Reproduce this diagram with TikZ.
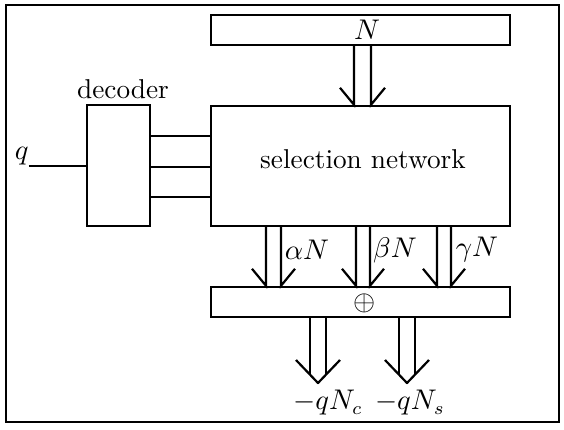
\documentclass[tikz,border=0pt]{standalone}
\usetikzlibrary{fit,calc}
\begin{document}
\begin{tikzpicture}[x=0.385pt,y=-0.385pt,
  box/.style={draw, line width=0.95pt, fill=white, inner sep=0pt},
  wire/.style={line width=0.85pt},
  thinwire/.style={line width=0.65pt},
  lbl/.style={inner sep=0pt, font=\fontsize{10.5}{12}\selectfont}]
\useasboundingbox (0,0) rectangle (564,429);
% outer frame
\node[draw, line width=0.6pt, inner sep=0pt, fit={(6,5) (559,422)}] (frame) {};
% blocks
\node[box, fit={(211,15) (510,45)}] (bus) {};
\node[box, fit={(211,106) (510,226)}] (sel) {};
\node[box, fit={(87,105) (150,226)}] (dec) {};
\node[box, fit={(211,287) (510,317)}] (sum) {};
% texts
\node[lbl] (Nlab) at (367,30) {$N$};
\node[lbl, anchor=base] (sellab) at (363,168) {selection network};
\node[lbl, anchor=base] (declab) at (123,98) {decoder};
\node[lbl, anchor=south east] (q) at (29,166) {$q$};
\node[lbl] (plus) at (365,303) {$\oplus$};
\node[lbl] (aN) at (307,250) {$\alpha N$};
\node[lbl] (bN) at (395,250) {$\beta N$};
\node[lbl] (gN) at (477,250) {$\gamma N$};
\node[lbl] (qNc) at (328,403) {$-qN_c$};
\node[lbl] (qNs) at (410,403) {$-qN_s$};
% input and decoder outputs
\draw[thinwire] (q.south east) -- (dec.west |- q.south);
\foreach \yy in {136,167,197}
  \draw[wire] (dec.east |- 0,\yy) -- (sel.west |- 0,\yy);
% double-line arrows between blocks
\newcommand\twinarrow[4]{%
  \draw[wire] (#1,0 |- #3.south) -- (#1,0 |- #4.north) -- ++(-14,-17);
  \draw[wire] (#2,0 |- #3.south) -- (#2,0 |- #4.north) -- ++(14,-17);}
\twinarrow{354}{371}{bus}{sel}
\twinarrow{266}{281}{sel}{sum}
\twinarrow{356}{370}{sel}{sum}
\twinarrow{437}{451}{sel}{sum}
% output arrows
\newcommand\outarrow[2]{%
  \coordinate (#2) at (#1,383);
  \draw[wire] (#1-8,0 |- sum.south) -- (#1-8,375);
  \draw[wire] (#1+8,0 |- sum.south) -- (#1+8,375);
  \draw[wire, line join=round] ($(#2)+(-22,-23)$) -- (#2) -- ++(22,-23);}
\outarrow{318}{tipc}
\outarrow{407}{tips}
\end{tikzpicture}
\end{document}
